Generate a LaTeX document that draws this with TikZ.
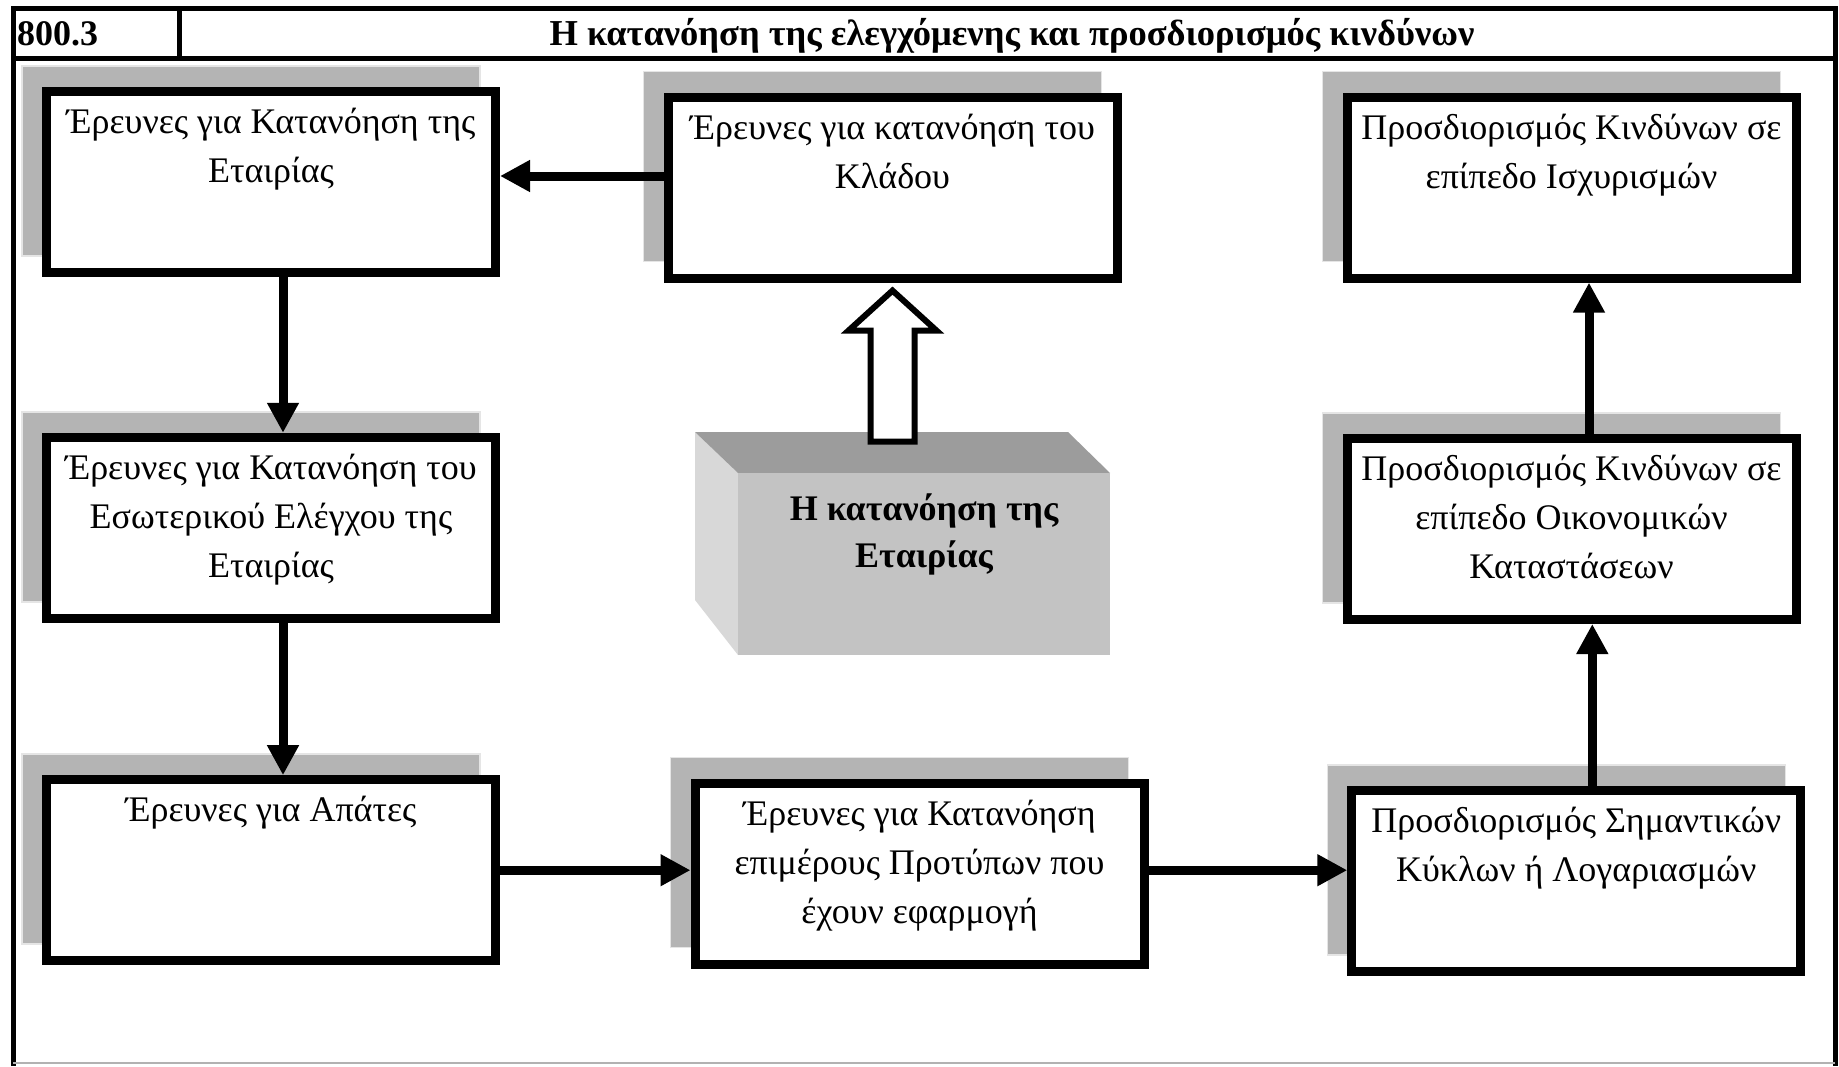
\documentclass[tikz,border=0pt]{standalone}
\usepackage{fontspec}
\setmainfont{Liberation Serif}
\usetikzlibrary{arrows.meta,calc}
\definecolor{shadowgray}{HTML}{B4B4B4}
\definecolor{topface}{HTML}{9C9C9C}
\definecolor{leftface}{HTML}{D8D8D8}
\definecolor{frontface}{HTML}{C3C3C3}
\begin{document}
\begin{tikzpicture}[x=1pt,y=-1pt,
  box/.style={draw, line width=9pt, fill=white, minimum width=449pt, minimum height=181pt, inner sep=0pt},
  shadowbox/.style={fill=shadowgray, draw=white!80!gray, line width=1.5pt, minimum width=458pt, minimum height=190pt, inner sep=0pt},
  txt/.style={font=\fontsize{36}{49}\selectfont, align=center, anchor=north, inner sep=0pt},
  arr/.style={line width=9pt, -{Triangle[length=30pt,width=30pt]}},
  frame/.style={line width=5pt},
]
\useasboundingbox (0,0) rectangle (1839,1066);
\fill[white] (0,0) rectangle (1839,1066);

% frame and header
\draw[frame] (13,1066) -- (13,8.5) -- (1835,8.5) -- (1835,1066);
\draw[frame] (13,58.5) -- (1835,58.5);
\draw[frame] (179.5,8.5) -- (179.5,58.5);
\draw[gray!60, line width=1.5pt] (13,1063) -- (1835,1063);
\node[font=\fontsize{36}{40}\selectfont\bfseries, anchor=base west, inner sep=0pt] (code) at (17,45) {800.3};
\node[font=\fontsize{36.5}{40}\selectfont\bfseries, anchor=base, inner sep=0pt] (title) at (1012,45) {Η κατανόηση της ελεγχόμενης και προσδιορισμός κινδύνων};

% shadows
\node[shadowbox] (s1) at (251,160.8) {};
\node[shadowbox] (s2) at (872.5,166.6) {};
\node[shadowbox] (s3) at (1551.5,166.6) {};
\node[shadowbox] (s4) at (251,506.8) {};
\node[shadowbox] (s6) at (1551.5,508) {};
\node[shadowbox] (s7) at (251,849.2) {};
\node[shadowbox] (s8) at (899.5,852.7) {};
\node[shadowbox] (s9) at (1556.3,859.8) {};

% boxes
\node[box] (b1) at (271,181.8) {};
\node[box] (b2) at (892.5,187.6) {};
\node[box] (b3) at (1571.5,187.6) {};
\node[box] (b4) at (271,527.8) {};
\node[box] (b6) at (1571.5,529) {};
\node[box] (b7) at (271,870.2) {};
\node[box] (b8) at (919.5,873.7) {};
\node[box] (b9) at (1576.3,880.8) {};

% texts
\node[txt] (t1) at ([yshift=-12pt]b1.north) {\strut Έρευνες για Κατανόηση της\\Εταιρίας};
\node[txt] (t2) at ([yshift=-12pt]b2.north) {\strut Έρευνες για κατανόηση του\\Κλάδου};
\node[txt] (t3) at ([yshift=-12pt]b3.north) {\strut Προσδιορισμός Κινδύνων σε\\επίπεδο Ισχυρισμών};
\node[txt] (t4) at ([yshift=-12pt]b4.north) {\strut Έρευνες για Κατανόηση του\\Εσωτερικού Ελέγχου της\\Εταιρίας};
\node[txt] (t6) at ([yshift=-12pt]b6.north) {\strut Προσδιορισμός Κινδύνων σε\\επίπεδο Οικονομικών\\Καταστάσεων};
\node[txt] (t7) at ([yshift=-12pt]b7.north) {\strut Έρευνες για Απάτες};
\node[txt] (t8) at ([yshift=-12pt]b8.north) {\strut Έρευνες για Κατανόηση\\επιμέρους Προτύπων που\\έχουν εφαρμογή};
\node[txt] (t9) at ([yshift=-12pt]b9.north) {\strut Προσδιορισμός Σημαντικών\\Κύκλων ή Λογαριασμών};

% 3D box
\fill[leftface] (695,432) -- (738,473) -- (738,655) -- (695,600) -- cycle;
\fill[topface] (695,432) -- (1068,432) -- (1110,473) -- (738,473) -- cycle;
\node[fill=frontface, minimum width=372pt, minimum height=182pt, inner sep=0pt] (firm) at (924,564) {};
\node[txt, font=\fontsize{36}{47}\selectfont\bfseries] (tf) at ([yshift=-15pt]firm.north) {\strut Η κατανόηση της\\Εταιρίας};

% block arrow from firm to b2
\draw[line width=6pt, fill=white, line join=miter] ([yshift=-8pt]b2.south) -- ++(44,40) -- ++(-22,0) -- ++(0,111) -- ++(-44,0) -- ++(0,-111) -- ++(-22,0) -- cycle;

% arrows
\draw[arr] ([yshift=11.6pt]b2.west) -- ([yshift=11.6pt]b2.west -| b1.east);
\draw[arr] ([xshift=12pt]b1.south) -- ([xshift=12pt]b1.south |- b4.north);
\draw[arr] ([xshift=12pt]b4.south) -- ([xshift=12pt]b4.south |- b7.north);
\draw[arr] (b7.east) -- (b7.east -| b8.west);
\draw[arr] (b8.east |- b7.east) -- (b9.west |- b7.east);
\draw[arr] ([xshift=16pt]b9.north) -- ([xshift=16pt]b9.north |- b6.south);
\draw[arr] ([xshift=17.5pt]b6.north) -- ([xshift=17.5pt]b6.north |- b3.south);
\end{tikzpicture}
\end{document}
